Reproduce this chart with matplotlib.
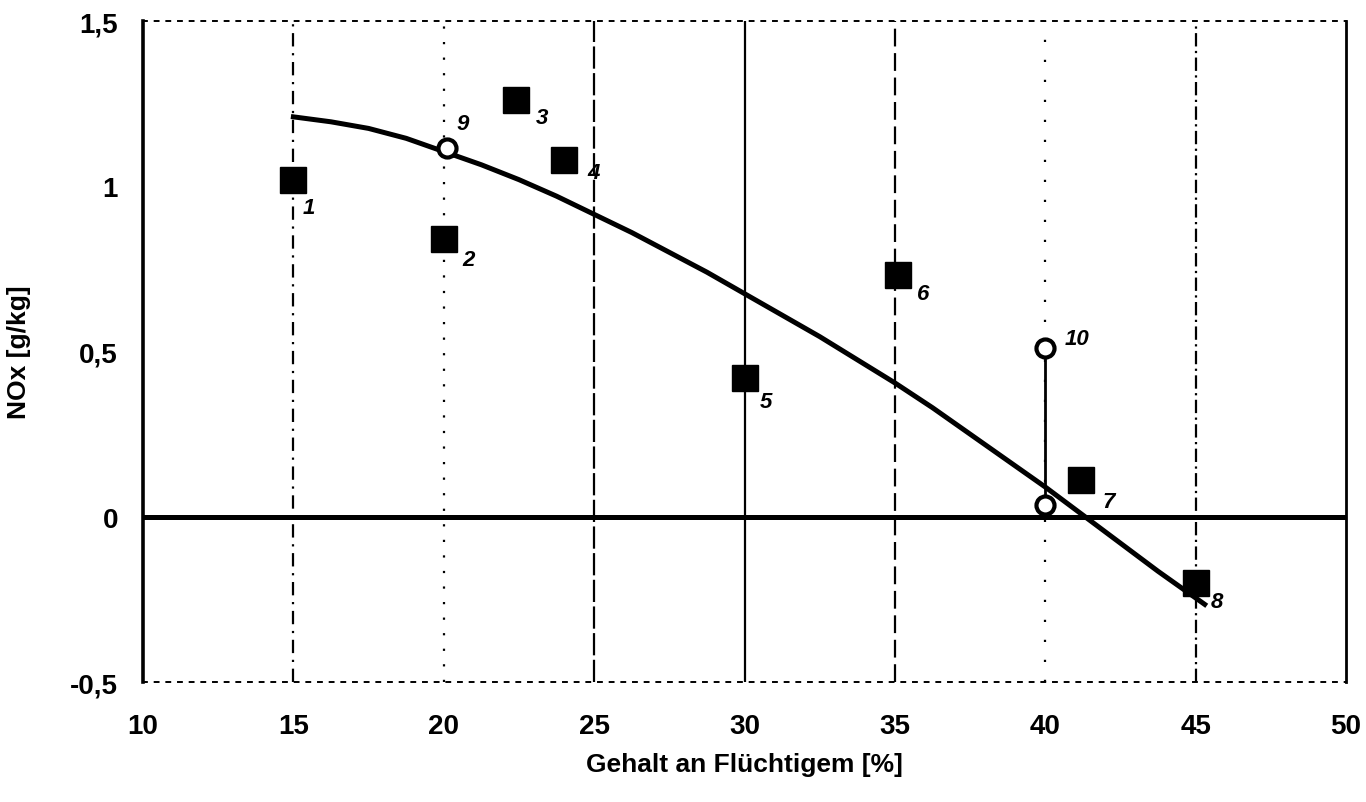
import matplotlib
matplotlib.use('Agg')
import matplotlib.pyplot as plt

# measured points (squares) with their numbers
sq_x = [15, 20, 22.4, 24, 30, 35.1, 41.2, 45]
sq_y = [1.02, 0.84, 1.26, 1.08, 0.42, 0.73, 0.11, -0.20]
sq_lab = ['1', '2', '3', '4', '5', '6', '7', '8']

# open circles (9, 10 and lower end of 10)
ci_x = [20.1, 40, 40]
ci_y = [1.115, 0.51, 0.035]
ci_lab = ['9', '10', '']

# fitted curve
fit_x = [15, 16.25, 17.5, 18.75, 20, 21.25, 22.5, 23.75, 25, 26.25, 27.5, 28.75,
         30, 31.25, 32.5, 33.75, 35, 36.25, 37.5, 38.75, 40, 41.25, 42.5, 43.75, 45.3]
fit_y = [1.21, 1.195, 1.175, 1.145, 1.105, 1.065, 1.02, 0.97, 0.915, 0.86, 0.80, 0.74,
         0.675, 0.61, 0.545, 0.475, 0.405, 0.33, 0.25, 0.17, 0.09, 0.005, -0.08, -0.165, -0.265]

xticks = [10, 15, 20, 25, 30, 35, 40, 45, 50]
yticks = [-0.5, 0, 0.5, 1, 1.5]
ytick_lab = ['-0,5', '0', '0,5', '1', '1,5']

plt.rcParams['font.family'] = ['Liberation Sans', 'DejaVu Sans']

fig = plt.figure(figsize=(13.66, 8.03), dpi=100)
ax = fig.add_axes([0.1047, 0.1494, 0.8807, 0.8232])

ax.set_xlim(10, 50)
ax.set_ylim(-0.5, 1.5)

# vertical grid lines, scan looks like mixed dash styles
styles = {15: (0, (6, 3, 1, 3)), 20: (0, (1, 6)), 25: (0, (10, 2)), 30: '-',
          35: (0, (8, 3)), 40: (0, (1, 8)), 45: (0, (6, 2, 1, 2))}
for gx, ls in styles.items():
    ax.axvline(gx, color='black', lw=1.6, ls=ls, zorder=1)

ax.axhline(0, color='black', lw=3.6, zorder=2)

ax.plot(fit_x, fit_y, color='black', lw=3.6, zorder=3, solid_joinstyle='round')

ax.plot([40, 40], [ci_y[2], ci_y[1]], color='black', lw=2, zorder=3)

ax.plot(sq_x, sq_y, ls='none', marker='s', ms=19, color='black', zorder=4)
ax.plot(ci_x, ci_y, ls='none', marker='o', ms=13, mfc='white', mec='black', mew=3, zorder=4)

offs = [(15, -28), (25, -20), (26, -17), (29, -13), (21, -24), (25, -18), (27, -21), (21, -19)]
for x, y, t, o in zip(sq_x, sq_y, sq_lab, offs):
    ax.annotate(t, (x, y), xytext=o, textcoords='offset pixels', fontsize=16,
                fontweight='bold', style='italic', ha='center', va='center')
for x, y, t, o in zip(ci_x, ci_y, ci_lab, [(16, 25), (32, 10), (0, 0)]):
    if t:
        ax.annotate(t, (x, y), xytext=o, textcoords='offset pixels', fontsize=16,
                    fontweight='bold', style='italic', ha='center', va='center')

for s in ['top', 'bottom']:
    ax.spines[s].set_linestyle((0, (2, 4)))
    ax.spines[s].set_linewidth(1.4)
ax.spines['left'].set_linewidth(2.6)
ax.spines['right'].set_linewidth(2.0)

ax.set_xticks(xticks)
ax.set_xticklabels([str(v) for v in xticks], fontsize=20, fontweight='bold')
ax.set_yticks(yticks)
ax.set_yticklabels(ytick_lab, fontsize=20, fontweight='bold')
ax.tick_params(axis='x', length=0, pad=22)
ax.tick_params(axis='y', direction='in', length=0, pad=18)

ax.set_xlabel('Gehalt an Flüchtigem [%]', fontsize=19, fontweight='bold', labelpad=10)
ax.set_ylabel('NOx [g/kg]', fontsize=19, fontweight='bold', labelpad=28)

plt.savefig('out.png', dpi=100)
